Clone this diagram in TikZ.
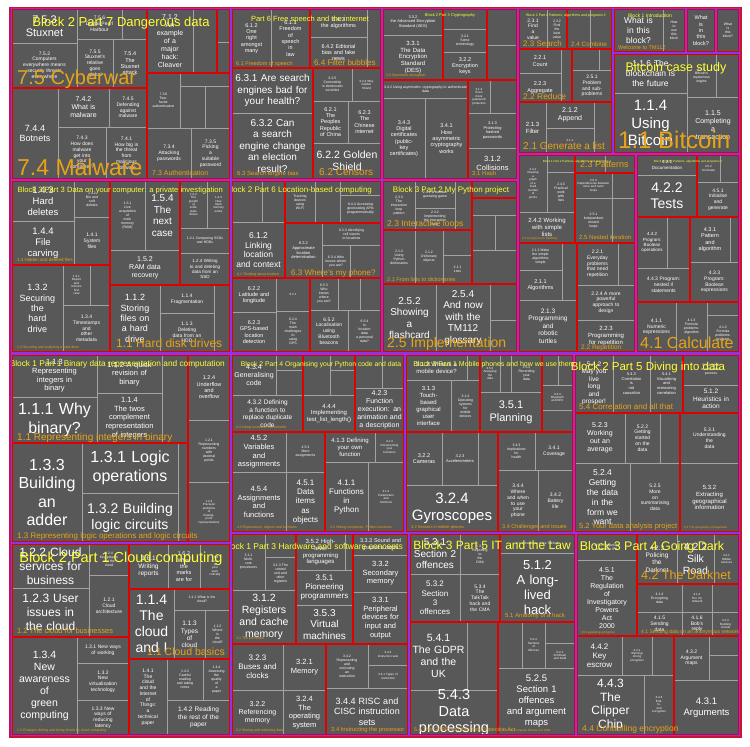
\documentclass[tikz,border=0pt]{standalone}
\usepackage{fontspec}
\setmainfont{Liberation Sans}
\usepackage{xcolor}
\usepackage{tikz}

\definecolor{tilegray}{HTML}{585858}
\definecolor{tileline}{HTML}{A3A3A3}
\definecolor{secred}{HTML}{E00000}
\definecolor{blkpurple}{HTML}{8E34E8}
\definecolor{outercrimson}{HTML}{C8143C}
\definecolor{secorange}{HTML}{E8A317}
\definecolor{blkyellow}{HTML}{FFFF33}

\pgfdeclarelayer{sec}
\pgfdeclarelayer{blk}
\pgfdeclarelayer{lab}
\pgfsetlayers{main,sec,blk,lab}

\newcounter{tilecnt}
\newcounter{labcnt}
% one tile: x1 y1 x2 y2 fontsize text
\newcommand{\tile}[6]{%
  \stepcounter{tilecnt}%
  \draw[tilebox] (#1,#2) rectangle (#3,#4);
  \pgfmathsetmacro{\tilew}{max(#3-#1-2,3)}%
  \pgfmathsetmacro{\tileb}{1.15*#5}%
  \node[tiletext, text width=\tilew pt, font=\fontsize{#5}{\tileb}\selectfont]
    (tile\arabic{tilecnt}) at ({(#1+#3)/2},{(#2+#4)/2}) {#6};
}
% section (red) and block (purple) frames
\newcommand{\sect}[4]{\begin{pgfonlayer}{sec}\draw[secbox] (#1,#2) rectangle (#3,#4);\end{pgfonlayer}}
\newcommand{\blk}[4]{\begin{pgfonlayer}{blk}\draw[blkbox] (#1-1.2,#2-1.2) rectangle (#3+1.2,#4+1.2);\end{pgfonlayer}}
% section label: x y size text
\newcommand{\slab}[4]{\stepcounter{labcnt}\begin{pgfonlayer}{lab}%
  \node[seclabel, font=\fontsize{#3}{#3}\selectfont] (slab\arabic{labcnt}) at (#1,#2) {#4};\end{pgfonlayer}}
% block label: [anchor] clip box, x y size text
\newcommand{\blab}[9][anchor=base]{\stepcounter{labcnt}\begin{pgfonlayer}{lab}\begin{scope}
  \clip (#2,#3) rectangle (#4,#5);
  \node[blklabel, #1, font=\fontsize{#8}{#8}\selectfont] (blab\arabic{labcnt}) at (#6,#7) {#9};
  \end{scope}\end{pgfonlayer}}

\begin{document}
\begin{tikzpicture}[x=1pt, y=-1pt,
    tilebox/.style={fill=tilegray, draw=tileline, line width=0.9pt},
    tiletext/.style={text=white, align=center, inner sep=0pt},
    secbox/.style={draw=secred, line width=2.4pt},
    blkbox/.style={draw=blkpurple, line width=2.4pt},
    seclabel/.style={text=secorange, anchor=base west, inner sep=0pt},
    blklabel/.style={text=blkyellow, inner sep=0pt},
]
\useasboundingbox[fill=white] (0,0) rectangle (750,747);
\fill[outercrimson] (11,8) rectangle (740,736);

% ---------- Block 2 Part 7 Dangerous data ----------
\tile{12}{9}{77}{43}{11}{7.5.3\\Stuxnet}
\tile{77}{9}{122}{39}{5}{7.5.6\\Digital Pearl\\Harbour}
\tile{122}{9}{147}{39}{3}{}
\tile{12}{43}{77}{88}{5}{7.5.2\\Computers\\everywhere means\\security threats\\everywhere}
\tile{77}{39}{113}{88}{5}{7.5.5\\Stuxnet's\\relative\\goes\\global}
\tile{113}{39}{147}{88}{5.5}{7.5.4\\The\\Stuxnet\\attack}
\tile{147}{9}{193}{73}{7}{7.1.2\\An\\example\\of a\\major\\hack:\\Cleaver}
\tile{193}{9}{217}{73}{3}{}
\tile{217}{9}{230}{42}{3}{}
\tile{217}{42}{230}{73}{3}{}
\tile{12}{88}{58}{179}{9}{7.4.4\\Botnets}
\tile{58}{88}{109}{127}{7}{7.4.2\\What is\\malware}
\tile{109}{88}{147}{127}{5}{7.4.5\\Defending\\against\\malware}
\tile{58}{127}{106}{179}{5}{7.4.3\\How does\\malware\\get into\\your\\computer?}
\tile{106}{127}{147}{179}{5}{7.4.1\\How big is\\the threat\\from\\malicious\\software}
\tile{147}{73}{180}{128}{3.5}{7.3.6\\Two-\\factor\\authentication}
\tile{180}{73}{230}{86}{3}{}
\tile{180}{86}{205}{128}{3}{}
\tile{205}{86}{230}{128}{3}{}
\tile{147}{128}{191}{179}{5}{7.3.4\\Attacking\\passwords}
\tile{191}{128}{230}{179}{5}{7.3.5\\Picking\\a\\suitable\\password}
\sect{12}{9}{147}{88}\sect{147}{9}{217}{73}\sect{217}{9}{230}{73}
\sect{12}{88}{147}{179}\sect{147}{73}{230}{179}
\blk{12}{9}{230}{179}
\slab{17}{84}{20}{7.5 Cyberwar}
\slab{17}{175}{23}{7.4 Malware}
\slab{152}{175}{7}{7.3 Authentication}
\blab{11}{8}{740}{736}{121}{26}{13}{Block 2 Part 7 Dangerous data}

% ---------- Block 2 Part 6 Free speech ----------
\tile{232}{9}{271}{68}{5.5}{6.1.2\\One\\right\\amongst\\many}
\tile{271}{9}{310}{68}{5.5}{6.1.1\\Freedom\\of\\speech\\in\\law}
\tile{310}{9}{367}{37}{5.5}{6.4.3\\the algorithms}
\tile{310}{37}{367}{68}{5.5}{6.4.2 Editorial\\bias and fake\\news}
\tile{367}{9}{381}{68}{3}{}
\tile{232}{68}{313}{113}{10}{6.3.1 Are search\\engines bad for\\your health?}
\tile{232}{113}{313}{179}{10}{6.3.2 Can\\a search\\engine change\\an election\\result?}
\tile{313}{68}{352}{101}{3.5}{6.2.5\\Censorship\\in democratic\\societies}
\tile{352}{68}{381}{101}{3}{6.2.4 Why\\Golden\\Shield}
\tile{313}{101}{348}{143}{5.5}{6.2.1\\The\\Peoples\\Republic\\of China}
\tile{348}{101}{381}{143}{5.5}{6.2.3\\The\\Chinese\\internet}
\tile{313}{143}{381}{179}{10.5}{6.2.2 Golden\\Shield}
\sect{232}{9}{310}{68}\sect{310}{9}{381}{68}
\sect{232}{68}{313}{179}\sect{313}{68}{381}{179}
\blk{232}{9}{381}{179}
\slab{236}{65}{5.5}{6.1 Freedom of speech}
\slab{314}{65}{8}{6.4 Filter bubbles}
\slab{237}{175}{6}{6.3 Search engine bias}
\slab{319}{175}{10}{6.2 Censors}
\blab{11}{8}{740}{736}{310}{21}{7.5}{Part 6 Free speech and the internet}

% ---------- Block 2 Part 3 (cryptography) ----------
\tile{383}{9}{443}{35}{4}{3.3.2\\the Advanced Encryption\\Standard (AES)}
\tile{383}{35}{443}{80}{6}{3.3.1\\The Data\\Encryption\\Standard\\(DES)}
\tile{443}{9}{487}{29}{3}{}
\tile{443}{29}{487}{52}{3.5}{3.2.1\\Some\\terminology}
\tile{443}{52}{487}{80}{5.5}{3.2.2\\Encryption\\keys}
\tile{487}{9}{517}{45}{3}{}
\tile{487}{45}{517}{80}{3}{}
\tile{383}{80}{468}{98}{3.5}{3.4.2 Using asymmetric cryptography to authenticate\\data}
\tile{383}{98}{425}{179}{5.5}{3.4.3\\Digital\\certificates\\(public-\\key\\certificates)}
\tile{425}{98}{468}{179}{5.5}{3.4.1\\How\\asymmetric\\cryptography\\works}
\tile{468}{80}{490}{113}{3}{3.1.4\\Even\\more\\password\\protection}
\tile{490}{80}{517}{113}{3}{}
\tile{468}{113}{517}{148}{4}{3.1.3\\Protecting\\hashed\\passwords}
\tile{468}{148}{517}{179}{7.5}{3.1.2\\Collisions}
\sect{383}{9}{443}{80}\sect{443}{9}{487}{80}\sect{487}{9}{517}{80}
\sect{383}{80}{468}{179}\sect{468}{80}{517}{179}
\blk{383}{9}{517}{179}
\slab{386}{76}{3.5}{3.3 Symmetric encryption}
\slab{472}{175}{6}{3.1 Hash}
\blab{11}{8}{740}{736}{450}{16}{4}{Block 2 Part 3 Cryptography}

% ---------- Block 2 Part 2 Patterns 3 ----------
\tile{519}{9}{547}{49}{5}{2.3.1\\Find\\a\\value}
\tile{547}{9}{567}{49}{3.5}{2.3.2\\Find\\the\\best\\value}
\tile{567}{9}{590}{49}{3}{}
\tile{590}{9}{612}{49}{3}{}
\tile{519}{49}{561}{73}{5.5}{2.2.1\\Count}
\tile{519}{73}{561}{102}{5.5}{2.2.3\\Aggregate}
\tile{561}{49}{572}{102}{3}{}
\tile{572}{49}{599}{70}{3}{}
\tile{599}{49}{612}{70}{3}{}
\tile{572}{70}{612}{102}{5}{2.5.1\\Problem\\and sub-\\problems}
\tile{519}{102}{546}{153}{6}{2.1.3\\Filter}
\tile{546}{102}{594}{128}{7}{2.1.2\\Append}
\tile{546}{128}{594}{153}{3}{2.1.1}
\tile{594}{102}{612}{153}{3}{}
\sect{519}{9}{567}{49}\sect{567}{9}{612}{49}\sect{519}{49}{572}{102}
\sect{572}{49}{612}{102}\sect{519}{102}{612}{153}
\blk{519}{9}{612}{153}
\slab{523}{46}{8}{2.3 Search}
\slab{571}{46}{6.3}{2.4 Combine}
\slab{523}{99}{8.4}{2.2 Reduce}
\slab{523}{149}{10}{2.1 Generate a list}
\blab{11}{8}{740}{736}{566}{16}{3.5}{Block 2 Part 2 Patterns, algorithms and programs 3}

% ---------- Introductions ----------
\tile{614}{9}{663}{52}{8.5}{What is\\in this\\block?}
\tile{663}{9}{685}{52}{3.5}{How\\to\\use\\this\\block}
\tile{687}{9}{715}{52}{5.5}{What\\is\\in\\this\\block?}
\tile{717}{9}{739}{52}{3.5}{What\\is\\this\\block?}
\sect{614}{9}{685}{52}\sect{687}{9}{715}{52}\sect{717}{9}{739}{52}
\blk{614}{9}{685}{52}\blk{687}{9}{715}{52}\blk{717}{9}{739}{52}
\slab{618}{49}{5.5}{Welcome to TM112}
\blab{11}{8}{740}{736}{650}{17}{5}{Block 1 Introduction}

% ---------- Bitcoin case study ----------
\tile{614}{54}{687}{93}{8.5}{1.1.6 The\\blockchain is\\the future}
\tile{687}{54}{716}{97}{3.5}{1.1.2\\Bitcoin's\\mysterious\\origins}
\tile{716}{54}{739}{97}{3}{}
\tile{614}{93}{687}{153}{15}{1.1.4\\Using\\Bitcoin}
\tile{687}{97}{739}{153}{7}{1.1.5\\Completing\\a\\transaction}
\sect{614}{54}{739}{153}
\blk{614}{54}{739}{153}
\slab{618}{148}{24}{1.1 Bitcoin}
\blab{11}{8}{740}{736}{676}{71}{12.5}{Bitcoin case study}

% ---------- Block 3 Part 3 Data on your computer ----------
\tile{12}{181}{74}{221}{9.5}{1.4.3\\Hard\\deletes}
\tile{12}{221}{74}{265}{9.5}{1.4.4\\File\\carving}
\tile{74}{181}{110}{217}{3.5}{1.4.2\\Bin and\\soft\\deletes}
\tile{74}{217}{110}{265}{5}{1.4.1\\System\\files}
\tile{110}{181}{145}{250}{3.5}{1.5.1\\Live\\acquisition\\of\\main\\memory\\(RAM)}
\tile{145}{181}{180}{250}{10}{1.5.4\\The\\next\\case}
\tile{110}{250}{180}{285}{7}{1.5.2\\RAM data\\recovery}
\tile{180}{181}{207}{228}{3}{1.2.2\\The\\growth\\of\\solid-\\state\\drives}
\tile{207}{181}{230}{228}{3}{1.2.3\\How\\flash\\memory\\works}
\tile{180}{228}{230}{253}{3.5}{1.2.1 Comparing SSDs\\and HDDs}
\tile{180}{253}{230}{285}{4.5}{1.2.4 Writing\\to and deleting\\data from an\\SSD}
\tile{12}{265}{63}{352}{9}{1.3.2\\Securing\\the\\hard\\drive}
\tile{63}{265}{90}{305}{3}{1.3.1\\Report\\and\\Gloria's\\first\\case}
\tile{90}{265}{110}{305}{3}{}
\tile{63}{305}{110}{352}{5}{1.3.4\\Timestamps\\and\\other\\metadata}
\tile{110}{285}{160}{352}{9}{1.1.2\\Storing\\files on\\a hard\\drive}
\tile{160}{285}{214}{313}{5}{1.1.4\\Fragmentation}
\tile{160}{313}{214}{352}{5}{1.1.3\\Deleting\\data from an\\HDD}
\tile{214}{285}{230}{352}{3}{}
\sect{12}{181}{110}{265}\sect{110}{181}{180}{285}\sect{180}{181}{230}{285}
\sect{12}{265}{110}{352}\sect{110}{285}{230}{352}
\blk{12}{181}{230}{352}
\slab{17}{261}{4.5}{1.4 Hidden and deleted files}
\slab{17}{348}{3.5}{1.3 Securing and analysing a hard drive}
\slab{116}{347}{12}{1.1 Hard disk drives}
\blab[anchor=base east]{12}{181}{230}{352}{223}{192}{7.6}{Block 3 Part 3 Data on your computer: a private investigation}

% ---------- Block 2 Part 6 Location-based computing ----------
\tile{232}{181}{262}{222}{3}{}
\tile{262}{181}{285}{222}{3}{}
\tile{232}{222}{285}{278}{8.5}{6.1.2\\Linking\\location\\and context}
\tile{285}{181}{315}{223}{3.5}{Tracking\\devices\\using\\Wi-Fi}
\tile{315}{181}{340}{223}{3}{}
\tile{340}{181}{381}{195}{3}{}
\tile{340}{195}{381}{223}{3.5}{6.4.4 Accessing\\geolocating APIs\\programmatically}
\tile{285}{223}{322}{278}{4}{6.3.2\\Approximate\\location\\determination}
\tile{322}{223}{381}{245}{3.5}{6.3.3 Identifying\\cell towers\\to locations}
\tile{322}{245}{350}{278}{3.5}{6.3.4 Who\\knows where\\you are?}
\tile{350}{245}{381}{278}{3}{}
\tile{232}{278}{276}{312}{5.5}{6.2.2\\Latitude and\\longitude}
\tile{232}{312}{276}{352}{5.5}{6.2.3\\GPS-based\\location\\detection}
\tile{276}{278}{310}{311}{3}{6.2.1}
\tile{276}{311}{310}{352}{3.5}{6.2.4\\The\\main\\challenges\\to\\using\\GPS}
\tile{310}{278}{338}{310}{3.5}{6.5.3\\Who\\knows\\where\\you are?}
\tile{338}{278}{360}{310}{3}{}
\tile{360}{278}{381}{310}{3}{}
\tile{310}{310}{348}{352}{5}{6.5.2\\Localisation\\using\\Bluetooth\\beacons}
\tile{348}{310}{381}{352}{3.5}{6.5.4\\Is\\location\\data\\a personal\\data?}
\sect{232}{181}{285}{278}\sect{285}{181}{381}{223}\sect{285}{223}{381}{278}
\sect{232}{278}{310}{352}\sect{310}{278}{381}{352}
\blk{232}{181}{381}{352}
\slab{237}{275}{3.5}{6.1 Thinking about location}
\slab{291}{275}{8}{6.3 Where's my phone?}
\blab{232}{181}{381}{352}{299}{192}{8}{Block 2 Part 6 Location-based computing}

% ---------- Block 3 Part 2 My Python project ----------
\tile{383}{181}{415}{230}{3.5}{2.3.3\\The\\interaction\\loop\\pattern}
\tile{415}{181}{455}{208}{3.5}{2.3.1 A number\\guessing game}
\tile{415}{208}{455}{230}{3.5}{2.3.2\\Implementing\\the interaction\\loop}
\tile{455}{181}{472}{230}{3}{}
\tile{472}{181}{517}{198}{3}{}
\tile{472}{198}{517}{215}{3}{}
\tile{472}{215}{495}{250}{3}{}
\tile{495}{215}{517}{250}{3}{}
\tile{472}{250}{517}{284}{3}{}
\tile{383}{230}{415}{284}{3.5}{2.1.4\\Using\\Python\\dictionaries}
\tile{415}{230}{443}{284}{3.5}{2.1.2\\Dictionary\\objects}
\tile{443}{230}{472}{255}{3}{}
\tile{443}{255}{472}{284}{3.5}{2.1.1\\Lists}
\tile{383}{284}{436}{352}{10}{2.5.2\\Showing\\a\\flashcard}
\tile{436}{284}{490}{352}{10}{2.5.4\\And now\\with the\\TM112\\glossary}
\tile{490}{284}{517}{320}{3}{}
\tile{490}{320}{517}{352}{3}{}
\sect{383}{181}{472}{230}\sect{472}{181}{517}{198}\sect{472}{198}{517}{284}
\sect{383}{230}{472}{284}\sect{383}{284}{517}{352}
\blk{383}{181}{517}{352}
\slab{387}{226}{8.5}{2.3 Interactive loops}
\slab{387}{281}{5.5}{2.1 From lists to dictionaries}
\slab{387}{347}{14}{2.5 Implementation}
\blab{11}{8}{740}{736}{451}{192}{8}{Block 3 Part 2 My Python project}

% ---------- Block 1 Part 2 Patterns 1 ----------
\tile{519}{155}{547}{212}{3}{2.4.1\\Drawing\\a\\graph\\of a\\fixed\\number\\of\\points}
\tile{547}{155}{575}{172}{3}{}
\tile{547}{172}{575}{212}{3.5}{2.4.3\\Practical\\work\\with\\lists}
\tile{519}{212}{575}{243}{6}{2.4.2 Working\\with simple\\lists}
\tile{575}{155}{605}{173}{3}{}
\tile{605}{155}{635}{173}{3}{}
\tile{575}{173}{612}{198}{3}{2.5.3\\Dependencies between\\inner and outer\\loops}
\tile{612}{173}{635}{198}{3}{}
\tile{575}{198}{612}{243}{3.5}{2.5.1\\Independent\\nested\\loops}
\tile{612}{198}{635}{243}{3}{}
\tile{519}{243}{562}{270}{3.5}{2.1.2 Make\\the simple\\algorithms\\simple}
\tile{519}{270}{562}{300}{5.5}{2.1.1\\Algorithms}
\tile{562}{243}{577}{300}{3}{}
\tile{519}{300}{577}{352}{6.5}{2.1.3\\Programming\\and\\robotic\\turtles}
\tile{577}{243}{618}{285}{5}{2.2.1\\Everyday\\problems\\that need\\repetition}
\tile{618}{243}{635}{285}{3}{}
\tile{577}{285}{635}{320}{5}{2.2.4 A more\\powerful\\approach to\\design}
\tile{577}{320}{635}{352}{6}{2.2.3\\Programming\\for repetition}
\sect{519}{155}{575}{243}\sect{575}{155}{635}{173}\sect{575}{173}{635}{243}
\sect{519}{243}{577}{352}\sect{577}{243}{635}{352}
\blk{519}{155}{635}{352}
\slab{522}{239}{3}{2.4 Using lists for flexibility}
\slab{580}{167}{9}{2.3 Patterns}
\slab{579}{239}{6}{2.5 Nested iteration}
\slab{581}{349}{6.5}{2.2 Repetition}
\blab{11}{8}{740}{736}{577}{162}{3}{Block 1 Part 2 Patterns, algorithms and programs 1}

% ---------- Block 1 Part 4 Patterns 2 ----------
\tile{637}{155}{697}{175}{4.5}{4.2.1\\Documentation}
\tile{637}{175}{697}{217}{14}{4.2.2\\Tests}
\tile{697}{155}{720}{182}{3}{4.5.2\\Terminate}
\tile{720}{155}{739}{182}{3}{}
\tile{697}{182}{739}{217}{5}{4.5.1\\Initialise\\and\\generate}
\tile{637}{217}{667}{268}{4.5}{4.4.2\\Program:\\Boolean\\operations}
\tile{667}{217}{690}{268}{3}{}
\tile{637}{268}{690}{302}{5}{4.4.3 Program:\\nested if\\statements}
\tile{690}{217}{730}{262}{5.5}{4.3.1\\Pattern\\and\\algorithm}
\tile{730}{217}{739}{262}{3}{}
\tile{690}{262}{739}{302}{5}{4.3.3\\Program:\\Boolean\\expressions}
\tile{637}{302}{676}{352}{5}{4.1.1\\Numeric\\expressions}
\tile{676}{302}{707}{352}{3.5}{4.1.3\\Formula\\problems:\\algorithm}
\tile{707}{302}{739}{315}{3}{}
\tile{707}{315}{739}{352}{3.5}{4.1.2\\Formula\\problems:\\program}
\sect{637}{155}{697}{217}\sect{697}{155}{739}{217}\sect{637}{217}{690}{302}
\sect{690}{217}{739}{302}\sect{637}{302}{739}{352}
\blk{637}{155}{739}{352}
\slab{640}{348}{16}{4.1 Calculate}
\blab{11}{8}{740}{736}{688}{162}{3}{Block 1 Part 4 Patterns, algorithms and programs 2}

% ---------- Block 1 Part 1 Binary data ----------
\tile{12}{355}{97}{397}{7.5}{1.1.3\\Representing\\integers in\\binary}
\tile{12}{397}{97}{443}{16}{1.1.1 Why\\binary?}
\tile{97}{355}{162}{393}{7.5}{1.1.2 A quick\\revision of\\binary}
\tile{97}{393}{162}{443}{7.5}{1.1.4\\The twos\\complement\\representation\\of integers}
\tile{162}{355}{188}{443}{3}{}
\tile{188}{355}{230}{420}{5.5}{1.2.4\\Underflow\\and\\overflow}
\tile{188}{420}{230}{482}{3.5}{1.2.1\\Representing\\numbers\\with\\decimal\\points}
\tile{188}{482}{230}{542}{3}{1.2.3\\Precision\\problems\\of\\floating-\\point\\representations}
\tile{12}{443}{82}{542}{16}{1.3.3\\Building\\an\\adder}
\tile{82}{443}{178}{493}{16}{1.3.1 Logic\\operations}
\tile{82}{493}{178}{542}{14}{1.3.2 Building\\logic circuits}
\tile{178}{443}{188}{542}{3}{}
\sect{12}{355}{188}{443}\sect{188}{355}{230}{542}\sect{12}{443}{188}{542}
\blk{12}{355}{230}{542}
\slab{17}{440}{10}{1.1 Representing integers in binary}
\slab{17}{538}{8}{1.3 Representing logic operations and logic circuits}
\blab[anchor=base east]{12}{355}{230}{542}{225}{366}{8.3}{Block 1 Part 1 Binary data representation and computation}

% ---------- Block 2 Part 4 Organising your Python code and data ----------
\tile{232}{355}{276}{395}{7}{4.3.4\\Generalising\\code}
\tile{276}{355}{303}{370}{3}{}
\tile{276}{370}{303}{395}{3}{}
\tile{232}{395}{303}{432}{6.5}{4.3.2 Defining\\a function to\\replace duplicate\\code}
\tile{303}{355}{330}{395}{3}{}
\tile{330}{355}{355}{370}{3}{}
\tile{330}{370}{355}{395}{3}{}
\tile{303}{395}{355}{432}{6}{4.4.4\\Implementing\\test\_list\_length()}
\tile{355}{355}{382}{388}{3}{}
\tile{382}{355}{404}{388}{3}{}
\tile{355}{388}{404}{432}{7}{4.2.3\\Function\\execution: an\\animation and\\a description}
\tile{232}{432}{286}{472}{7.5}{4.5.2\\Variables\\and\\assignments}
\tile{286}{432}{325}{472}{3.5}{4.5.3\\More\\assignments}
\tile{232}{472}{286}{532}{7.5}{4.5.4\\Assignments\\and\\functions}
\tile{286}{472}{325}{532}{8}{4.5.1\\Data\\items\\as\\objects}
\tile{325}{432}{375}{462}{6}{4.1.3 Defining\\your own\\function}
\tile{375}{432}{404}{462}{3}{4.1.4\\Documenting\\your\\functions}
\tile{325}{462}{368}{532}{8}{4.1.1\\Functions\\in\\Python}
\tile{368}{462}{404}{532}{3}{4.1.2\\Parameters\\and\\functions}
\sect{232}{355}{303}{432}\sect{303}{355}{355}{432}\sect{355}{355}{404}{432}
\sect{232}{432}{325}{532}\sect{325}{432}{404}{532}
\blk{232}{355}{404}{532}
\slab{236}{428}{3.5}{4.3 Using functions: the benefits}
\slab{237}{528}{3.5}{4.5 Expressions, objects and functions}
\slab{330}{528}{3.5}{4.1 Hiding complexity: Python functions}
\blab{11}{8}{740}{736}{321}{366}{6.8}{Block 2 Part 4 Organising your Python code and data}

% ---------- Block 3 Part 1 Mobile phones ----------
\tile{406}{355}{467}{380}{6}{3.1.2 What is a\\mobile device?}
\tile{467}{355}{480}{380}{3}{}
\tile{406}{380}{451}{432}{6}{3.1.3\\Touch-\\based\\graphical\\user\\interface}
\tile{451}{380}{480}{432}{3.5}{3.1.4\\Operating\\systems\\for\\mobile\\devices}
\tile{480}{355}{500}{392}{3}{3.5.3\\Analysing\\the\\data}
\tile{500}{355}{511}{392}{3}{}
\tile{511}{355}{542}{392}{3.5}{3.5.2\\Recording\\your\\data}
\tile{480}{392}{542}{432}{11}{3.5.1\\Planning}
\tile{542}{355}{558}{385}{3}{}
\tile{558}{355}{573}{385}{3}{}
\tile{542}{385}{573}{410}{3}{3.3.4\\Bluetooth\\and NFC}
\tile{542}{410}{573}{432}{3}{}
\tile{406}{432}{442}{485}{5.5}{3.2.2\\Cameras}
\tile{442}{432}{478}{485}{4}{3.2.3\\Accelerometers}
\tile{478}{432}{498}{485}{3}{}
\tile{406}{485}{498}{532}{15}{3.2.4\\Gyroscopes}
\tile{498}{432}{535}{470}{3.5}{3.4.3\\Implications\\for\\health}
\tile{535}{432}{573}{470}{5}{3.4.1\\Coverage}
\tile{498}{470}{538}{532}{5}{3.4.4\\Where\\and when\\to use\\your\\phone}
\tile{538}{470}{573}{532}{5}{3.4.2\\Battery\\life}
\sect{406}{355}{480}{432}\sect{480}{355}{542}{432}\sect{542}{355}{573}{432}
\sect{406}{432}{498}{532}\sect{498}{432}{573}{532}
\blk{406}{355}{573}{532}
\slab{411}{528}{4}{3.2 Sensors in mobile phones}
\slab{502}{528}{5.5}{3.4 Challenges and issues}
\blab{11}{8}{740}{736}{494}{366}{7}{Block 3 Part 1 Mobile phones and how we use them}

% ---------- Block 2 Part 5 Diving into data ----------
\tile{575}{355}{613}{412}{6.5}{5.4.2\\May you\\live\\long\\and\\prosper!}
\tile{613}{355}{650}{412}{4}{5.4.3\\Correlation\\is\\not\\causation}
\tile{650}{355}{683}{412}{4}{5.4.1\\Visualising\\and\\measuring\\correlation}
\tile{683}{355}{739}{385}{3.5}{5.1.1 What\\is a heuristic\\process}
\tile{683}{385}{739}{413}{6.5}{5.1.2\\Heuristics in\\action}
\tile{575}{413}{625}{463}{7}{5.2.3\\Working\\out an\\average}
\tile{625}{413}{660}{463}{5}{5.2.2\\Getting\\started\\on the\\data}
\tile{660}{413}{680}{463}{3}{}
\tile{575}{463}{630}{532}{8.5}{5.2.4\\Getting\\the data\\in the\\form we\\want}
\tile{630}{463}{680}{532}{5}{5.2.5\\More\\on\\summarising\\data}
\tile{680}{413}{739}{463}{5}{5.3.1\\Understanding\\the\\data}
\tile{680}{463}{739}{532}{6}{5.3.2\\Extracting\\geographical\\information}
\sect{575}{355}{683}{413}\sect{683}{355}{739}{413}
\sect{575}{413}{680}{532}\sect{680}{413}{739}{532}
\blk{575}{355}{739}{532}
\slab{579}{409}{8}{5.4 Correlation and all that}
\slab{579}{528}{7.5}{5.2 Your data analysis project}
\slab{684}{528}{3}{5.3 The geography of happiness}
\blab{11}{8}{740}{736}{648}{370}{11.5}{Block 2 Part 5 Diving into data}

% ---------- Block 2 Part 1 Cloud computing ----------
\tile{12}{544}{89}{588}{12}{1.2.2 Cloud\\services for\\business}
\tile{12}{588}{89}{637}{12}{1.2.3 User\\issues in\\the cloud}
\tile{89}{544}{129}{575}{3.5}{1.2.4\\Key players\\and the\\cloud}
\tile{89}{575}{129}{637}{5}{1.2.1\\Cloud\\architecture}
\tile{129}{544}{168}{589}{6.5}{1.6.1\\Writing\\reports}
\tile{168}{544}{200}{589}{5.5}{1.6.2\\What\\the\\marks\\are for}
\tile{200}{544}{230}{589}{3}{1.6.3\\Look\\at\\your\\work\\critically}
\tile{129}{589}{174}{659}{14}{1.1.4\\The\\cloud\\and I}
\tile{174}{589}{230}{610}{3.5}{1.1.1 What is the\\cloud?}
\tile{174}{610}{205}{659}{6.5}{1.1.3\\Types\\of\\cloud}
\tile{205}{610}{230}{659}{3.5}{1.1.2\\Where\\is\\the\\cloud?}
\tile{12}{637}{77}{735}{10.5}{1.3.4\\New\\awareness\\of\\green\\computing}
\tile{77}{637}{129}{663}{5}{1.3.1 New ways\\of working}
\tile{77}{663}{129}{700}{5}{1.3.2\\New\\virtualisation\\technology}
\tile{77}{700}{129}{735}{5}{1.3.3 New\\ways of\\reducing\\latency}
\tile{129}{659}{167}{735}{5}{1.4.1\\The\\cloud\\and the\\Internet\\of\\Things:\\a\\technical\\paper}
\tile{167}{659}{203}{700}{3.5}{1.4.3\\Careful\\reading\\and taking\\notes}
\tile{203}{659}{230}{700}{3.5}{1.4.4\\Assessing\\the\\quality\\of\\a\\paper}
\tile{167}{700}{230}{735}{6.5}{1.4.2 Reading\\the rest of the\\paper}
\sect{12}{544}{129}{637}\sect{129}{544}{230}{589}\sect{129}{589}{230}{659}
\sect{12}{637}{129}{735}\sect{129}{659}{230}{735}
\blk{12}{544}{230}{735}
\slab{17}{633}{7.5}{1.2 The cloud for businesses}
\slab{147}{655}{10.5}{1.1 Cloud basics}
\slab{17}{731}{3.5}{1.3 Changes driving and being driven by cloud computing}
\blab{11}{8}{740}{736}{121}{562}{14.5}{Block 2 Part 1 Cloud computing}

% ---------- Block 1 Part 3 Hardware and software concepts ----------
\tile{232}{534}{265}{590}{3.5}{3.1.1\\Multi-\\core\\processors}
\tile{265}{534}{296}{557}{3}{}
\tile{265}{557}{296}{590}{3.5}{3.1.3 The\\control\\unit and\\other\\registers}
\tile{232}{590}{296}{644}{10.5}{3.1.2\\Registers\\and cache\\memory}
\tile{296}{534}{345}{570}{6}{3.5.2 High-\\level\\programming\\languages}
\tile{345}{534}{353}{570}{3}{}
\tile{296}{570}{353}{605}{8}{3.5.1\\Pioneering\\programmers}
\tile{296}{605}{353}{644}{10}{3.5.3\\Virtual\\machines}
\tile{353}{534}{408}{555}{5.5}{3.3.3 Sound and\\graphics cards}
\tile{353}{555}{408}{592}{7.5}{3.3.2\\Secondary\\memory}
\tile{353}{592}{408}{644}{7.5}{3.3.1\\Peripheral\\devices for\\input and\\output}
\tile{232}{644}{283}{690}{8}{3.2.3\\Buses and\\clocks}
\tile{283}{644}{326}{690}{7.5}{3.2.1\\Memory}
\tile{232}{690}{283}{735}{7}{3.2.2\\Referencing\\memory}
\tile{283}{690}{326}{735}{7.5}{3.2.4\\The\\operating\\system}
\tile{326}{644}{368}{688}{3.5}{3.4.2\\Representing\\and\\executing\\an\\instruction}
\tile{368}{644}{408}{665}{3}{3.4.3\\Instruction sets}
\tile{368}{665}{408}{688}{3}{3.4.1 Types of\\instruction}
\tile{326}{688}{408}{735}{9}{3.4.4 RISC and\\CISC instruction\\sets}
\sect{232}{534}{296}{644}\sect{296}{534}{353}{644}\sect{353}{534}{408}{644}
\sect{232}{644}{326}{735}\sect{326}{644}{408}{735}
\blk{232}{534}{408}{735}
\slab{236}{639}{3.5}{3.1 The processor}
\slab{236}{731}{3.5}{3.2 Storing and retrieving data}
\slab{331}{731}{5.8}{3.4 Instructing the processor}
\blab[anchor=base east]{232}{534}{408}{735}{403}{549}{8.5}{Block 1 Part 3 Hardware and software concepts}

% ---------- Block 3 Part 5 IT and the Law ----------
\tile{410}{534}{460}{574}{10}{5.3.1\\Section 2\\offences}
\tile{460}{534}{500}{574}{3.5}{5.3.3\\Reporting\\to\\the\\CMA}
\tile{410}{574}{460}{622}{8}{5.3.2\\Section\\3\\offences}
\tile{460}{574}{500}{622}{5}{5.3.4\\The\\TalkTalk\\hack and\\the CMA}
\tile{500}{534}{575}{553}{3}{5.1.1 Response of the TalkTalk}
\tile{500}{553}{575}{622}{13}{5.1.2\\A long-\\lived\\hack}
\tile{410}{622}{467}{690}{10.5}{5.4.1\\The GDPR\\and the\\UK}
\tile{467}{622}{498}{690}{3}{}
\tile{410}{690}{498}{735}{14.5}{5.4.3\\Data\\processing}
\tile{498}{622}{522}{668}{3}{}
\tile{522}{622}{545}{668}{3}{5.2.4\\Sections\\of\\offences}
\tile{545}{622}{575}{643}{3}{}
\tile{545}{643}{575}{668}{3}{5.2.1\\Schifreen\\and Gold}
\tile{498}{668}{575}{735}{9.5}{5.2.5\\Section 1\\offences\\and argument\\maps}
\sect{410}{534}{500}{622}\sect{500}{534}{575}{622}
\sect{410}{622}{498}{735}\sect{498}{622}{575}{735}
\blk{410}{534}{575}{735}
\slab{505}{617}{6}{5.1 Anatomy of a hack}
\slab{414}{731}{5.3}{5.4 The GDPR and the Data Protection Act}
\slab{503}{731}{3}{5.2 The Computer Misuse Act 1990}
\blab{11}{8}{740}{736}{492}{549}{12}{Block 3 Part 5 IT and the Law}

% ---------- Block 3 Part 4 Going Dark ----------
\tile{577}{534}{637}{560}{3.5}{4.5.2 Proposals\\under the IPA}
\tile{577}{560}{637}{636}{7}{4.5.1\\The\\Regulation\\of\\Investigatory\\Powers\\Act\\2000}
\tile{637}{534}{677}{584}{6.5}{4.2.3\\Policing\\the\\Darknet}
\tile{677}{534}{714}{584}{10.5}{4.2.2\\Silk\\Road}
\tile{714}{534}{739}{584}{3}{4.2.1\\Hidden\\services}
\tile{637}{584}{682}{612}{3.5}{4.1.4\\Encrypting\\data}
\tile{682}{584}{712}{612}{3}{4.1.2\\The Tor\\network}
\tile{712}{584}{739}{612}{3}{}
\tile{637}{612}{682}{636}{5}{4.1.5\\Sending\\data}
\tile{682}{612}{712}{636}{5}{4.1.6\\Bob's\\reply}
\tile{712}{612}{739}{636}{3}{4.1.3\\Building\\circuits}
\tile{577}{636}{622}{675}{8}{4.4.2\\Key\\escrow}
\tile{622}{636}{652}{675}{3}{4.4.1\\Banning\\strong\\encryption}
\tile{652}{636}{674}{675}{3}{}
\tile{577}{675}{644}{735}{12}{4.4.3\\The\\Clipper\\Chip}
\tile{644}{675}{674}{735}{3}{4.4.4\\End-\\to-\\end\\encryption}
\tile{674}{636}{709}{680}{5}{4.3.2\\Argument\\maps}
\tile{709}{636}{739}{655}{3}{}
\tile{709}{655}{739}{680}{3}{}
\tile{674}{680}{739}{735}{9.5}{4.3.1\\Arguments}
\sect{577}{534}{637}{636}\sect{637}{534}{739}{584}\sect{637}{584}{739}{636}
\sect{577}{636}{674}{735}\sect{674}{636}{739}{735}
\blk{577}{534}{739}{735}
\slab{581}{633}{3}{4.5 Legislating encryption}
\slab{641}{579}{12.5}{4.2 The Darknet}
\slab{641}{633}{5}{4.1 Sending data on an anonymous network}
\slab{582}{731}{8.5}{4.4 Controlling encryption}
\blab{11}{8}{740}{736}{652}{550}{12.5}{Block 3 Part 4 Going Dark}

% outer frame
\begin{pgfonlayer}{blk}
\draw[outercrimson, line width=1.5pt] (10,7.5) rectangle (741,737);
\end{pgfonlayer}
\end{tikzpicture}
\end{document}
